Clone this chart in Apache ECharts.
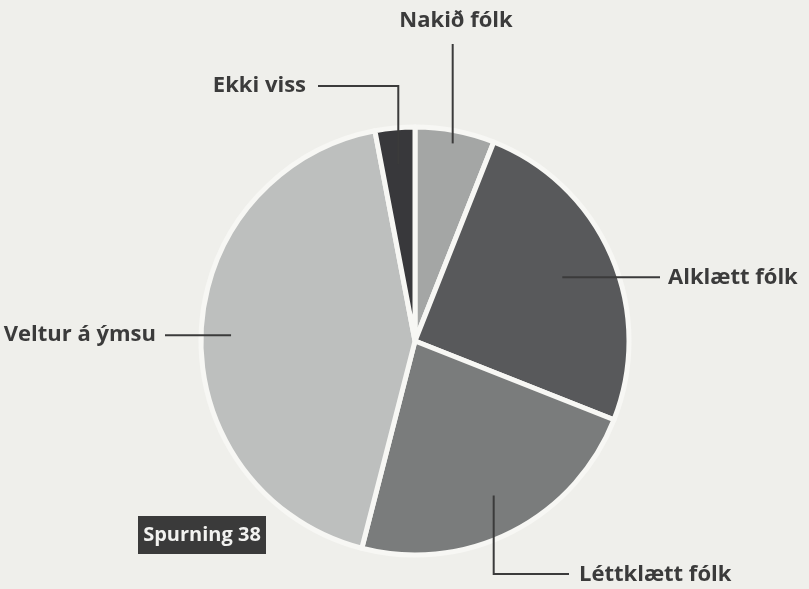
<!DOCTYPE html>
<html>
<head>
<meta charset="utf-8">
<script src="https://cdn.jsdelivr.net/npm/echarts@6/dist/echarts.min.js"></script>
<style>
html,body{margin:0;padding:0;background:#efefeb;}
#chart{width:809px;height:589px;}
</style>
</head>
<body>
<div id="chart"></div>
<script>
// Data (clockwise from 12 o'clock)
const categories = ['Nakið fólk', 'Alklætt fólk', 'Léttklætt fólk', 'Veltur á ýmsu', 'Ekki viss'];
const values = [6, 25, 23, 43, 3];
const sliceColors = ['#a4a6a5', '#58595b', '#7a7c7c', '#bdbfbe', '#38383b'];
const title = 'Spurning 38';

// Layout (styling only)
const CX = 415, CY = 341, R = 214;
const anchorFrac = [0.94, 0.75, 0.81, 0.86, 0.83];
const labelPos = [
  {x: 456, y: 21, align: 'center', elbow: 'up'},
  {x: 668, y: 279, align: 'left', elbow: 'h'},
  {x: 579, y: 575, align: 'left', elbow: 'down'},
  {x: 156, y: 333, align: 'right', elbow: 'h'},
  {x: 306, y: 86, align: 'right', elbow: 'upleft'}
];

const total = values.reduce((a, b) => a + b, 0);
const midAngles = [];
{
  let acc = 0;
  values.forEach(v => { midAngles.push((acc + v / 2) / total * 2 * Math.PI); acc += v; });
}
function anchor(i) {
  const a = midAngles[i], r = R * anchorFrac[i];
  return [CX + r * Math.sin(a), CY - r * Math.cos(a)];
}

const chart = echarts.init(document.getElementById('chart'), null, {renderer: 'canvas'});
const FONT = '"Open Sans", "DejaVu Sans", sans-serif';
const pieData = categories.map((c, i) => ({name: c, value: values[i], itemStyle: {color: sliceColors[i]}}));

chart.setOption({
  backgroundColor: '#efefeb',
  animation: false,
  series: [{
    type: 'pie',
    z: 1,
    center: [CX, CY],
    radius: R,
    startAngle: 90,
    clockwise: true,
    silent: true,
    data: pieData,
    itemStyle: {borderColor: '#f7f7f4', borderWidth: 5},
    label: {show: false},
    labelLine: {show: false},
    emphasis: {disabled: true}
  }, {
    type: 'pie',
    z: 5,
    center: [CX, CY],
    radius: R,
    startAngle: 90,
    clockwise: true,
    silent: true,
    data: categories.map((c, i) => ({name: c, value: values[i]})),
    itemStyle: {color: 'rgba(0,0,0,0)', borderWidth: 0},
    label: {
      show: true,
      formatter: '{b}',
      fontFamily: FONT,
      fontWeight: 'bold',
      fontSize: 22,
      color: '#3b3b3b',
      overflow: 'none',
      verticalAlign: 'middle'
    },
    labelLine: {show: true, showAbove: true, lineStyle: {color: '#3b3b3b', width: 2}, smooth: false},
    emphasis: {disabled: true},
    labelLayout: function (params) {
      const i = params.dataIndex;
      const p = labelPos[i];
      const a = anchor(i);
      let pts;
      if (p.elbow === 'up') {
        pts = [a, [a[0], p.y + 23], [a[0], p.y + 23]];
      } else if (p.elbow === 'h') {
        const ex = p.align === 'left' ? p.x - 8 : p.x + 9;
        pts = [a, [ex, a[1]], [ex, a[1]]];
      } else if (p.elbow === 'down') {
        pts = [a, [a[0], p.y - 1], [p.x - 10, p.y - 1]];
      } else {
        pts = [a, [a[0], p.y], [p.x + 12, p.y]];
      }
      return {
        x: p.x,
        y: p.elbow === 'h' ? a[1] : p.y,
        align: p.align,
        verticalAlign: 'middle',
        labelLinePoints: pts
      };
    }
  }],
  graphic: [{
    type: 'group',
    left: 138,
    top: 516,
    children: [
      {type: 'rect', shape: {x: 0, y: 0, width: 128, height: 38}, style: {fill: '#3a3a3a'}},
      {type: 'text', x: 64, y: 19, style: {text: title, fill: '#f2f2f0', font: 'bold 20px "Open Sans", sans-serif', textAlign: 'center', textVerticalAlign: 'middle'}}
    ]
  }]
});
</script>
</body>
</html>
